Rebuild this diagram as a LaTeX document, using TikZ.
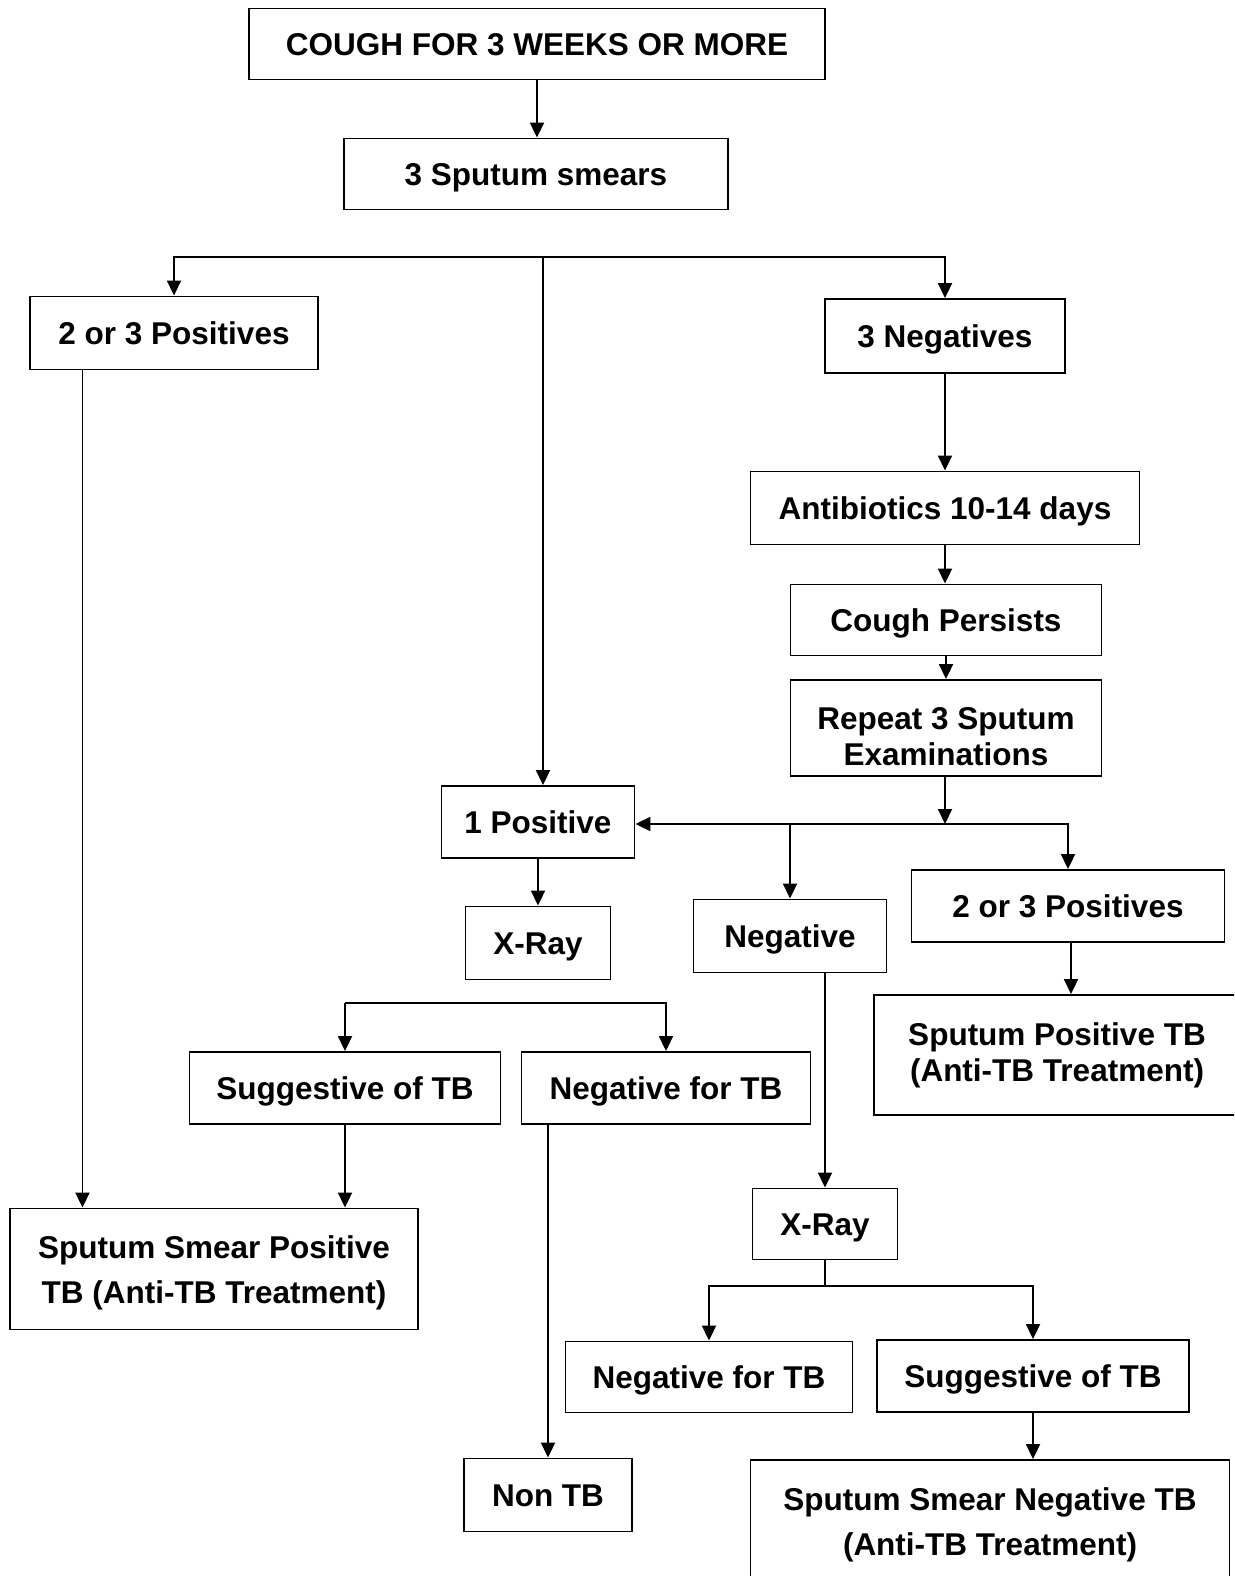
\documentclass[tikz,border=0pt]{standalone}
\usepackage{fontspec}
\setmainfont{Liberation Sans}
\usetikzlibrary{arrows.meta}

\begin{document}
\begin{tikzpicture}[
    x=1pt, y=-1pt,
    box/.style={draw=black, line width=1.9pt, fill=white, align=center,
        inner sep=0pt, text height=22.6pt, text depth=0pt,
        font=\bfseries\fontsize{31.5}{36}\selectfont},
    widebox/.style={box, font=\bfseries\fontsize{31.5}{45}\selectfont},
    link/.style={line width=1.9pt},
    conn/.style={link, -{Triangle[length=15pt,width=14pt]}}
]
    \clip (0,0) rectangle (1234,1576);
    % top
    \node[box, minimum width=576pt, minimum height=71pt] (cough) at (537,44) {COUGH FOR 3 WEEKS OR MORE};
    \node[box, minimum width=384pt, minimum height=71pt] (smears) at (536,174) {3 Sputum smears};
    \node[box, minimum width=288pt, minimum height=73pt] (posa) at (174,333) {2 or 3 Positives};
    \node[box, minimum width=240pt, minimum height=74pt] (negs) at (945,336) {3 Negatives};
    % right column
    \node[box, minimum width=389pt, minimum height=73pt] (anti) at (945,508) {Antibiotics 10-14 days};
    \node[box, minimum width=311pt, minimum height=71pt] (persist) at (946,620) {Cough Persists};
    \node[box, text height=85pt, text depth=11pt, minimum width=311pt, minimum height=96pt] (repeat) at (946,728) {Repeat 3 Sputum\\Examinations};
    \node[box, minimum width=193pt, minimum height=72pt] (onepos) at (538,822) {1 Positive};
    \node[box, minimum width=145pt, minimum height=73pt] (xraya) at (538,943) {X-Ray};
    \node[box, minimum width=193pt, minimum height=73pt] (neg) at (790,936) {Negative};
    \node[box, minimum width=313pt, minimum height=72pt] (posb) at (1068,906) {2 or 3 Positives};
    \node[box, text height=86pt, text depth=34pt, minimum width=366pt, minimum height=120pt] (sptb) at (1057,1055) {Sputum Positive TB\\(Anti-TB Treatment)};
    % middle
    \node[box, minimum width=311pt, minimum height=72pt] (sugga) at (345,1088) {Suggestive of TB};
    \node[box, minimum width=289pt, minimum height=72pt] (negtba) at (666,1088) {Negative for TB};
    \node[widebox, text height=95pt, text depth=26pt, minimum width=408pt, minimum height=121pt] (ssptb) at (214,1269) {Sputum Smear Positive\\TB (Anti-TB Treatment)};
    \node[box, minimum width=168pt, minimum height=73pt] (nontb) at (548,1495) {Non TB};
    % bottom
    \node[box, minimum width=145pt, minimum height=71pt] (xrayb) at (825,1224) {X-Ray};
    \node[box, minimum width=287pt, minimum height=71pt] (negtbb) at (709,1377) {Negative for TB};
    \node[box, minimum width=312pt, minimum height=72pt] (suggb) at (1033,1376) {Suggestive of TB};
    \node[widebox, text height=95pt, text depth=25pt, minimum width=479pt, minimum height=120pt] (ssntb) at (990,1520) {Sputum Smear Negative TB\\(Anti-TB Treatment)};

    \coordinate (ja) at (543,257);
    \coordinate (jb) at (945,824);
    \coordinate (jc) at (345,1003);
    \coordinate (jd) at (825,1286);

    \draw[conn] (cough.south) -- (cough.south |- smears.north);
    \draw[conn] (ja) -| (posa);
    \draw[conn] (ja) -| (negs);
    \draw[conn] (ja) -- (ja |- onepos.north);
    \draw[conn] ([xshift=-91.5pt]posa.south) -- ([xshift=-91.5pt]posa.south |- ssptb.north);
    \draw[conn] (negs) -- (negs |- anti.north);
    \draw[conn] (anti.south) -- (anti.south |- persist.north);
    \draw[conn] (persist.south) -- (persist.south |- repeat.north);
    \draw[conn] (repeat.south -| jb) -- (jb);
    \draw[conn] (jb) -- (onepos.east |- jb);
    \draw[conn] (jb) -| (posb);
    \draw[conn] (neg.north |- jb) -- (neg.north);
    \draw[conn] (onepos.south) -- (onepos.south |- xraya.north);
    \draw[conn] ([xshift=3pt]posb.south) -- ([xshift=3pt]posb.south |- sptb.north);
    \draw[conn] (jc) -- (sugga);
    \draw[conn] (jc) -| (negtba);
    \draw[conn] (sugga.south) -- (sugga.south |- ssptb.north);
    \draw[conn] (nontb.north |- negtba.south) -- (nontb.north);
    \draw[conn] (xrayb.north |- neg.south) -- (xrayb.north);
    \draw[link] (xrayb.south) -- (jd);
    \draw[conn] (jd) -| (negtbb);
    \draw[conn] (jd) -| (suggb);
    \draw[conn] (suggb.south) -- (suggb.south |- ssntb.north);
\end{tikzpicture}
\end{document}
